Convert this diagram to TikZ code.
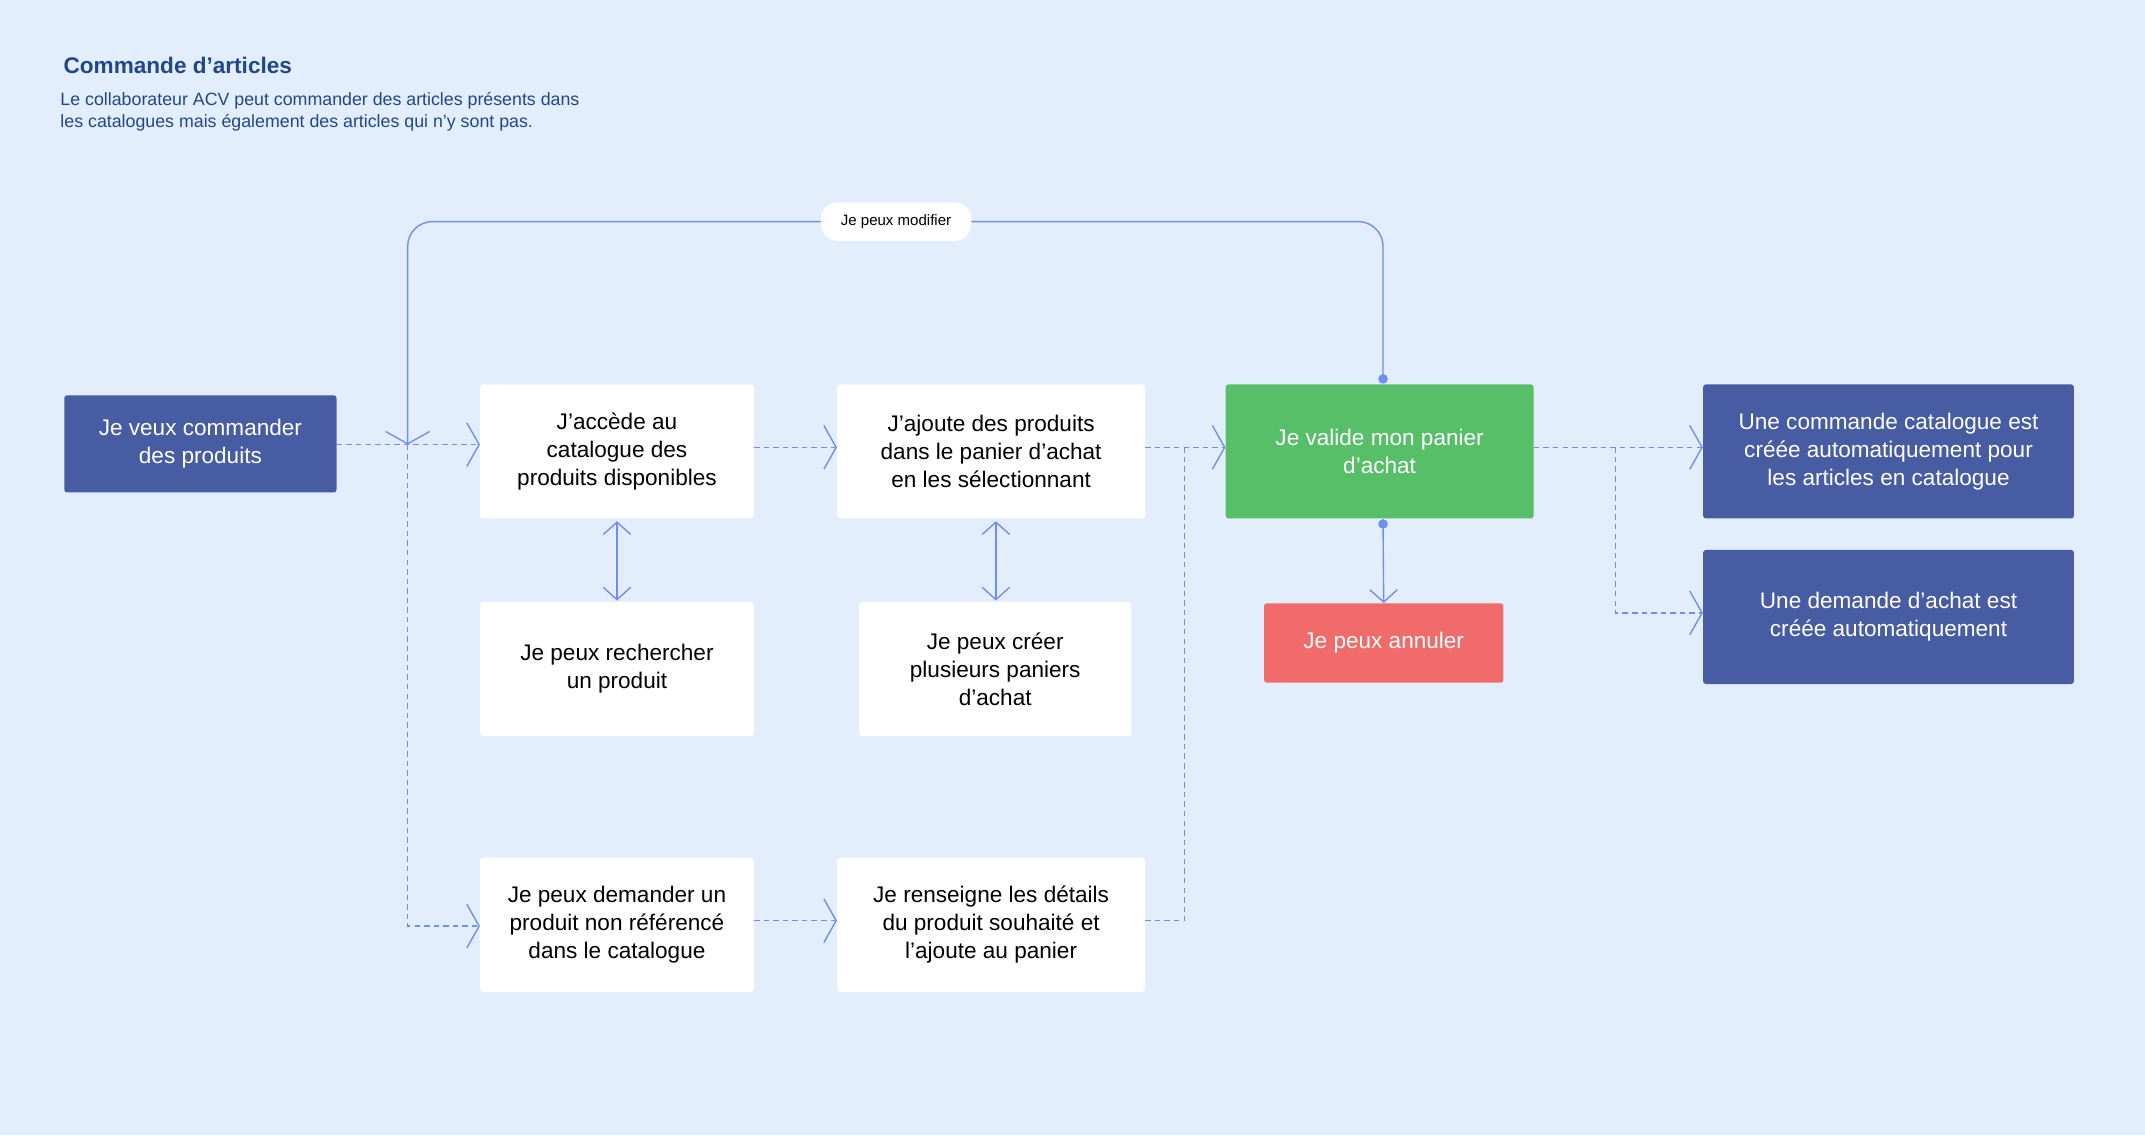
\documentclass[tikz,border=0pt]{standalone}
\usepackage{fontspec}
\setmainfont{Liberation Sans}
\usetikzlibrary{arrows.meta}
\definecolor{bg}{HTML}{E3EEFC}
\definecolor{navy}{HTML}{485CA3}
\definecolor{ttl}{HTML}{23468A}
\definecolor{ln}{HTML}{6F8DF2}
\definecolor{grn}{HTML}{58BF69}
\definecolor{rd}{HTML}{F26B6B}
\tikzset{
 x=1pt,y=-1pt,
 box/.style={rectangle,rounded corners=2pt,align=center,font=\fontsize{16.5}{20.5}\selectfont,inner sep=0pt},
 wbox/.style={box,fill=white,text=black},
 dbox/.style={box,fill=navy,text=white},
 tip/.style={-{Straight Barb[length=9pt,width=32pt,line width=1pt]}},
 dl/.style={draw=ln,line width=1pt,dashed,dash pattern=on 4pt off 3pt},
 sl/.style={draw=ln,line width=1pt},
}
\begin{document}
\begin{tikzpicture}
\fill[bg] (0,0) rectangle (1568,830);
\useasboundingbox (0,0) rectangle (1568,830);
\node[anchor=west,text=ttl,font=\bfseries\fontsize{16.5}{20}\selectfont] (title) at (43,48) {Commande d’articles};
\node[anchor=north west,text=ttl,align=left,font=\fontsize{13}{16.5}\selectfont,inner sep=0pt] (sub) at (44,67) {Le collaborateur ACV peut commander des articles présents dans\\les catalogues mais également des articles qui n’y sont pas.};
\node[dbox,minimum width=199,minimum height=71] (A) at (146.5,324.5) {Je veux commander\\des produits};
\node[wbox,minimum width=200,minimum height=98] (B) at (451,330) {J’accède au\\catalogue des\\produits disponibles};
\node[wbox,minimum width=225,minimum height=98] (C) at (724.5,330) {J’ajoute des produits\\dans le panier d’achat\\en les sélectionnant};
\node[box,fill=grn,text=white,minimum width=225,minimum height=98] (D) at (1008.5,330) {Je valide mon panier\\d’achat};
\node[dbox,minimum width=271,minimum height=98] (E1) at (1380.5,330) {Une commande catalogue est\\créée automatiquement pour\\les articles en catalogue};
\node[dbox,minimum width=271,minimum height=98] (E2) at (1380.5,451) {Une demande d’achat est\\créée automatiquement};
\node[wbox,minimum width=200,minimum height=98] (F) at (451,489) {Je peux rechercher\\un produit};
\node[wbox,minimum width=199,minimum height=98] (G) at (727.5,489) {Je peux créer\\plusieurs paniers\\d’achat};
\node[box,fill=rd,text=white,minimum width=175,minimum height=58] (H) at (1011.5,470) {Je peux annuler};
\node[wbox,minimum width=200,minimum height=98] (I) at (451,676) {Je peux demander un\\produit non référencé\\dans le catalogue};
\node[wbox,minimum width=225,minimum height=98] (J) at (724.5,676) {Je renseigne les détails\\du produit souhaité et\\l’ajoute au panier};
\coordinate (split) at (298,325);
\coordinate (merge) at (866,327);
\coordinate (br) at (1181,327);
% dashed flows
\draw[dl,tip] (A.east|-split) -- (B.west|-split);
\draw[dl,tip] (split) -- (298,677) -- (I.west|-0,677);
\draw[dl,tip] (B.east|-0,327) -- (C.west|-0,327);
\draw[dl,tip] (C.east|-merge) -- (D.west|-merge);
\draw[dl] (J.east|-0,673) -- (866,673) -- (merge);
\draw[dl,tip] (I.east|-0,673) -- (J.west|-0,673);
\draw[dl,tip] (D.east|-br) -- (E1.west|-br);
\draw[dl,tip] (br) -- (1181,448) -- (E2.west|-0,448);
% solid
\fill[ln] (1011,277) circle (3.5);
\fill[ln] (1011,383) circle (3.5);
\draw[sl,tip,rounded corners=18] (1011,277) -- (1011,162) -- (298,162) -- (split);
\node[fill=white,rounded corners=12,minimum width=110,minimum height=28,font=\fontsize{11}{13}\selectfont,inner sep=0pt] (mod) at (655,162) {Je peux modifier};
\draw[sl,{Straight Barb[length=9pt,width=20pt,line width=1pt]}-{Straight Barb[length=9pt,width=20pt,line width=1pt]}] (451,381) -- (451,439);
\draw[sl,{Straight Barb[length=9pt,width=20pt,line width=1pt]}-{Straight Barb[length=9pt,width=20pt,line width=1pt]}] (728,381) -- (728,439);
\draw[sl,-{Straight Barb[length=9pt,width=20pt,line width=1pt]}] (1011,383) -- (H.north);
\end{tikzpicture}
\end{document}
